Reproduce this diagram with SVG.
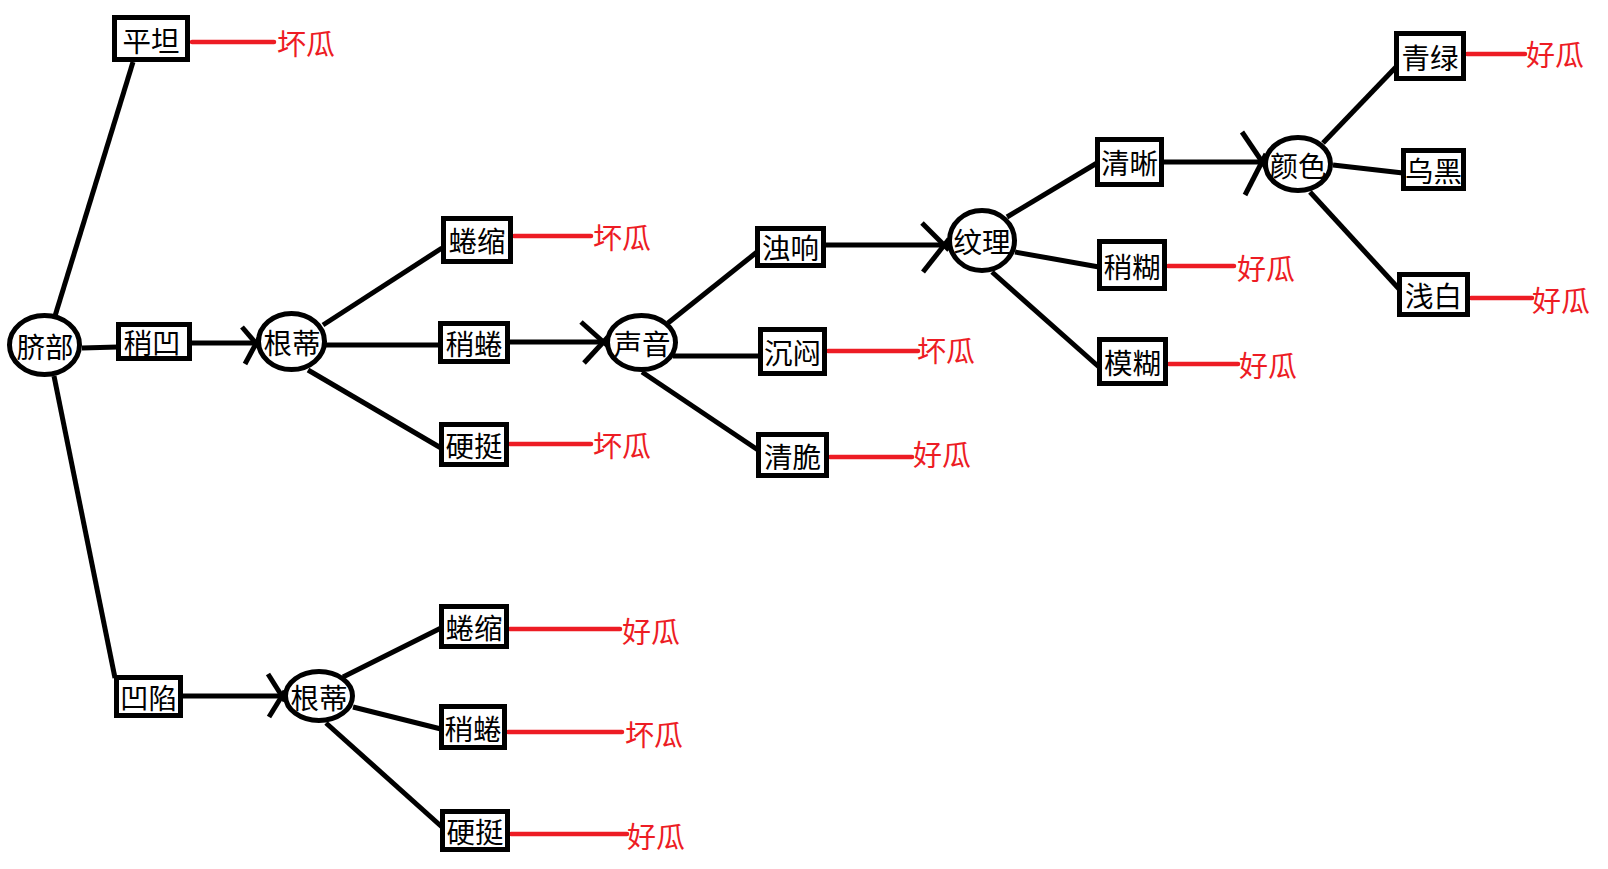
<svg xmlns="http://www.w3.org/2000/svg" width="1608" height="869" viewBox="0 0 1608 869">
<style>
.box{fill:#fff;stroke:#000;stroke-width:5}
.ell{fill:#fff;stroke:#000;stroke-width:5}
.t{font-family:"Noto Sans CJK SC","Microsoft YaHei",sans-serif;font-size:28.5px;fill:#000;text-anchor:middle;dominant-baseline:central}
.r{font-family:"Noto Sans CJK SC","Microsoft YaHei",sans-serif;font-size:29px;fill:#ED1C24;dominant-baseline:central}
.c line{stroke:#000;stroke-width:5}
.red line{stroke:#ED1C24;stroke-width:4.5;stroke-linecap:round}
</style>
<rect width="1608" height="869" fill="#fff"/>
<g id="connectors" class="c">
<line x1="55" y1="316" x2="133" y2="62"/>
<line x1="82" y1="348" x2="118" y2="347"/>
<line x1="54" y1="376" x2="115" y2="678"/>
<line x1="190" y1="343" x2="258" y2="343"/>
<line x1="181" y1="696" x2="284" y2="696"/>
<line x1="323" y1="325" x2="442" y2="248"/>
<line x1="325" y1="345" x2="440" y2="345"/>
<line x1="308" y1="370" x2="441" y2="448"/>
<line x1="508" y1="342" x2="607" y2="342"/>
<line x1="668" y1="323" x2="757" y2="252"/>
<line x1="673" y1="356" x2="760" y2="356"/>
<line x1="642" y1="372" x2="758" y2="450"/>
<line x1="824" y1="245" x2="948" y2="245"/>
<line x1="1007" y1="217" x2="1097" y2="163"/>
<line x1="1015" y1="252" x2="1099" y2="267"/>
<line x1="992" y1="272" x2="1099" y2="367"/>
<line x1="1162" y1="162" x2="1265" y2="162"/>
<line x1="1323" y1="143" x2="1396" y2="67"/>
<line x1="1333" y1="165" x2="1403" y2="173"/>
<line x1="1310" y1="192" x2="1400" y2="290"/>
<line x1="343" y1="677" x2="441" y2="628"/>
<line x1="353" y1="707" x2="441" y2="729"/>
<line x1="326" y1="723" x2="442" y2="827"/>
<line x1="242" y1="327" x2="259" y2="347"/>
<line x1="245" y1="364" x2="259" y2="338"/>
<line x1="268" y1="674" x2="285" y2="701"/>
<line x1="269" y1="717" x2="285" y2="691"/>
<line x1="581" y1="322" x2="609" y2="347"/>
<line x1="584" y1="363" x2="608" y2="337"/>
<line x1="922" y1="223" x2="949" y2="250"/>
<line x1="923" y1="272" x2="949" y2="239"/>
<line x1="1242" y1="132" x2="1267" y2="169"/>
<line x1="1245" y1="195" x2="1266" y2="154"/>
</g>
<g id="outcomes" class="red">
<line x1="192" y1="42" x2="274" y2="42"/>
<line x1="514" y1="236" x2="591" y2="236"/>
<line x1="510" y1="444" x2="591" y2="444"/>
<line x1="828" y1="351" x2="918" y2="351"/>
<line x1="830" y1="457" x2="912" y2="457"/>
<line x1="1168" y1="266" x2="1234" y2="266"/>
<line x1="1169" y1="364" x2="1238" y2="364"/>
<line x1="1467" y1="54" x2="1525" y2="54"/>
<line x1="1471" y1="298" x2="1532" y2="298"/>
<line x1="510" y1="629" x2="620" y2="629"/>
<line x1="508" y1="732" x2="622" y2="732"/>
<line x1="511" y1="834" x2="627" y2="834"/>
</g>
<g id="n-qibu"><ellipse class="ell" cx="44.5" cy="345" rx="35" ry="29.5"/><text class="t" x="45" y="345">脐部</text></g>
<g id="n-gendi1"><ellipse class="ell" cx="291.5" cy="341.5" rx="33" ry="28"/><text class="t" x="292" y="341.5">根蒂</text></g>
<g id="n-shengyin"><ellipse class="ell" cx="641.5" cy="342.5" rx="34" ry="27"/><text class="t" x="642" y="342.5">声音</text></g>
<g id="n-wenli"><ellipse class="ell" cx="982" cy="240.5" rx="32.5" ry="30"/><text class="t" x="982" y="240.5">纹理</text></g>
<g id="n-yanse"><ellipse class="ell" cx="1298" cy="164" rx="32.5" ry="26.5"/><text class="t" x="1298" y="164">颜色</text></g>
<g id="n-gendi2"><ellipse class="ell" cx="319" cy="696" rx="33.5" ry="24.5"/><text class="t" x="319" y="696">根蒂</text></g>
<g id="b-pingtan"><rect class="box" x="114.5" y="17.5" width="73" height="42"/><text class="t" x="151" y="39">平坦</text></g>
<g id="b-shaoao"><rect class="box" x="118.5" y="324.5" width="71" height="34"/><text class="t" x="152" y="341.5">稍凹</text></g>
<g id="b-aoxian"><rect class="box" x="116.5" y="677.5" width="64" height="38"/><text class="t" x="148.5" y="696.5">凹陷</text></g>
<g id="b-quansuo1"><rect class="box" x="443.5" y="218.5" width="67" height="43"/><text class="t" x="477" y="239.5">蜷缩</text></g>
<g id="b-shaoquan1"><rect class="box" x="440.5" y="323.5" width="67" height="38"/><text class="t" x="474" y="342.5">稍蜷</text></g>
<g id="b-yingting1"><rect class="box" x="441.5" y="424.5" width="65" height="40"/><text class="t" x="474" y="444.5">硬挺</text></g>
<g id="b-zhuoxiang"><rect class="box" x="757.5" y="228.5" width="66" height="37"/><text class="t" x="790.5" y="246.5">浊响</text></g>
<g id="b-chenmen"><rect class="box" x="760.5" y="329.5" width="64" height="44"/><text class="t" x="792.5" y="351.5">沉闷</text></g>
<g id="b-qingcui"><rect class="box" x="758.5" y="434.5" width="68" height="41"/><text class="t" x="792.5" y="455">清脆</text></g>
<g id="b-qingxi"><rect class="box" x="1097.5" y="139.5" width="64" height="45"/><text class="t" x="1129.5" y="161.5">清晰</text></g>
<g id="b-shaohu"><rect class="box" x="1099.5" y="241.5" width="65" height="47"/><text class="t" x="1132" y="265">稍糊</text></g>
<g id="b-mohu"><rect class="box" x="1099.5" y="339.5" width="66" height="44"/><text class="t" x="1132.5" y="361.5">模糊</text></g>
<g id="b-qinglv"><rect class="box" x="1396.5" y="33.5" width="67" height="45"/><text class="t" x="1430" y="56">青绿</text></g>
<g id="b-wuhei"><rect class="box" x="1403.5" y="150.5" width="60" height="38"/><text class="t" x="1433.5" y="169.5">乌黑</text></g>
<g id="b-qianbai"><rect class="box" x="1399.5" y="274.5" width="68" height="40"/><text class="t" x="1433.5" y="294.5">浅白</text></g>
<g id="b-quansuo2"><rect class="box" x="441.5" y="606.5" width="65" height="40"/><text class="t" x="474" y="626.5">蜷缩</text></g>
<g id="b-shaoquan2"><rect class="box" x="441.5" y="706.5" width="63" height="41"/><text class="t" x="473" y="727">稍蜷</text></g>
<g id="b-yingting2"><rect class="box" x="442.5" y="811.5" width="65" height="38"/><text class="t" x="475" y="830.5">硬挺</text></g>
<g id="labels">
<text class="r" x="277" y="42">坏瓜</text>
<text class="r" x="593" y="236">坏瓜</text>
<text class="r" x="593" y="444">坏瓜</text>
<text class="r" x="917" y="349">坏瓜</text>
<text class="r" x="913" y="453">好瓜</text>
<text class="r" x="1237" y="267">好瓜</text>
<text class="r" x="1239" y="364">好瓜</text>
<text class="r" x="1526" y="53">好瓜</text>
<text class="r" x="1532" y="299">好瓜</text>
<text class="r" x="622" y="630">好瓜</text>
<text class="r" x="625" y="733">坏瓜</text>
<text class="r" x="627" y="835">好瓜</text>
</g>
</svg>
